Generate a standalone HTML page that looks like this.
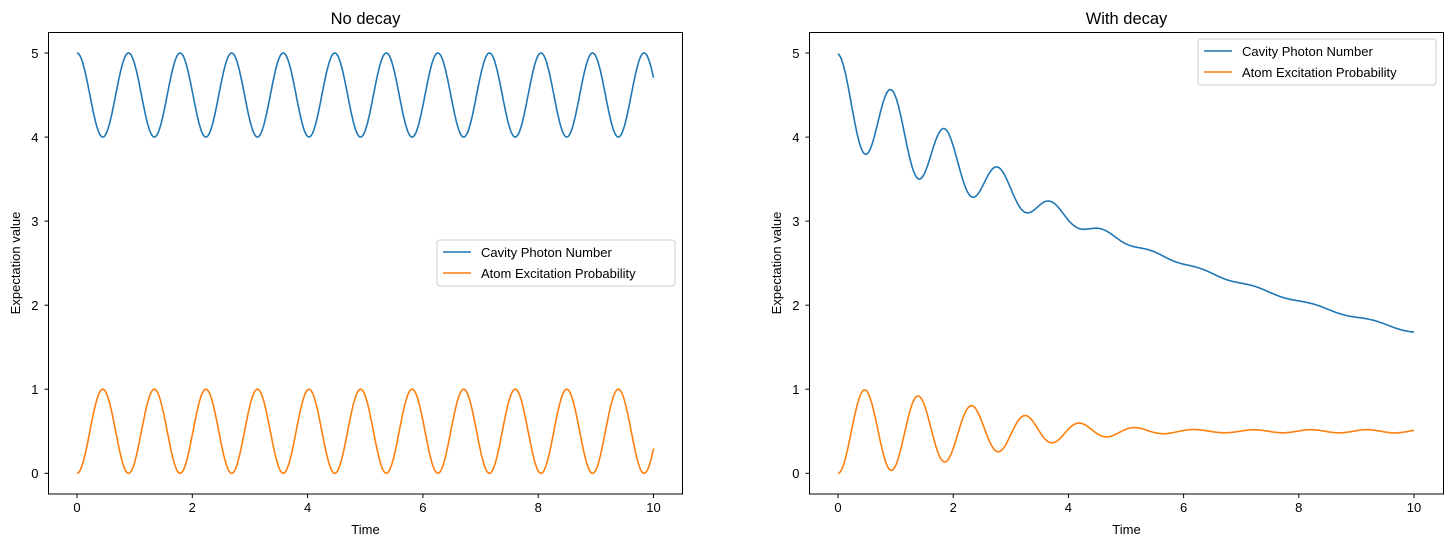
<!DOCTYPE html>
<html><head><meta charset="utf-8"><style>body{margin:0;background:#fff}svg{display:block;font-family:"Liberation Sans","DejaVu Sans",sans-serif}</style></head>
<body>
<svg id="s" width="1453" height="547" xmlns="http://www.w3.org/2000/svg" font-size="13">
<g id="curves"></g>
<!-- left panel -->
<text x="365.5" y="24" font-size="16.5" text-anchor="middle">No decay</text>
<rect x="48.5" y="32.5" width="634" height="461.5" fill="none" stroke="#000"/>
<g stroke="#000">
<line x1="77" x2="77" y1="494" y2="498"/><line x1="192.3" x2="192.3" y1="494" y2="498"/><line x1="307.6" x2="307.6" y1="494" y2="498"/><line x1="422.9" x2="422.9" y1="494" y2="498"/><line x1="538.2" x2="538.2" y1="494" y2="498"/><line x1="653.5" x2="653.5" y1="494" y2="498"/>
<line x1="44.5" x2="48.5" y1="473.3" y2="473.3"/><line x1="44.5" x2="48.5" y1="389.2" y2="389.2"/><line x1="44.5" x2="48.5" y1="305.2" y2="305.2"/><line x1="44.5" x2="48.5" y1="221.1" y2="221.1"/><line x1="44.5" x2="48.5" y1="137.1" y2="137.1"/><line x1="44.5" x2="48.5" y1="53" y2="53"/>
</g>
<g text-anchor="middle">
<text x="77" y="512">0</text><text x="192.3" y="512">2</text><text x="307.6" y="512">4</text><text x="422.9" y="512">6</text><text x="538.2" y="512">8</text><text x="653.5" y="512">10</text>
<text x="365.5" y="534">Time</text>
</g>
<g text-anchor="end">
<text x="38.5" y="478">0</text><text x="38.5" y="394">1</text><text x="38.5" y="310">2</text><text x="38.5" y="226">3</text><text x="38.5" y="142">4</text><text x="38.5" y="58">5</text>
</g>
<text transform="translate(20,263) rotate(-90)" text-anchor="middle">Expectation value</text>
<rect x="437" y="240" width="238" height="46" rx="3" fill="#fff" fill-opacity="0.8" stroke="#ccc"/>
<line x1="443" x2="471" y1="252" y2="252" stroke="#1f77b4" stroke-width="1.6"/><text x="481" y="257">Cavity Photon Number</text>
<line x1="443" x2="471" y1="273" y2="273" stroke="#ff7f0e" stroke-width="1.6"/><text x="481" y="278">Atom Excitation Probability</text>
<!-- right panel -->
<text x="1126.5" y="24" font-size="16.5" text-anchor="middle">With decay</text>
<rect x="809.5" y="32.5" width="634" height="461.5" fill="none" stroke="#000"/>
<g stroke="#000">
<line x1="838" x2="838" y1="494" y2="498"/><line x1="953.2" x2="953.2" y1="494" y2="498"/><line x1="1068.4" x2="1068.4" y1="494" y2="498"/><line x1="1183.6" x2="1183.6" y1="494" y2="498"/><line x1="1298.8" x2="1298.8" y1="494" y2="498"/><line x1="1414" x2="1414" y1="494" y2="498"/>
<line x1="805.5" x2="809.5" y1="473.3" y2="473.3"/><line x1="805.5" x2="809.5" y1="389.2" y2="389.2"/><line x1="805.5" x2="809.5" y1="305.2" y2="305.2"/><line x1="805.5" x2="809.5" y1="221.1" y2="221.1"/><line x1="805.5" x2="809.5" y1="137.1" y2="137.1"/><line x1="805.5" x2="809.5" y1="53" y2="53"/>
</g>
<g text-anchor="middle">
<text x="838" y="512">0</text><text x="953.2" y="512">2</text><text x="1068.4" y="512">4</text><text x="1183.6" y="512">6</text><text x="1298.8" y="512">8</text><text x="1414" y="512">10</text>
<text x="1126.5" y="534">Time</text>
</g>
<g text-anchor="end">
<text x="799.5" y="478">0</text><text x="799.5" y="394">1</text><text x="799.5" y="310">2</text><text x="799.5" y="226">3</text><text x="799.5" y="142">4</text><text x="799.5" y="58">5</text>
</g>
<text transform="translate(781,263) rotate(-90)" text-anchor="middle">Expectation value</text>
<rect x="1198" y="39" width="238" height="46" rx="3" fill="#fff" fill-opacity="0.8" stroke="#ccc"/>
<line x1="1204" x2="1232" y1="51" y2="51" stroke="#1f77b4" stroke-width="1.6"/><text x="1242" y="56">Cavity Photon Number</text>
<line x1="1204" x2="1232" y1="72" y2="72" stroke="#ff7f0e" stroke-width="1.6"/><text x="1242" y="77">Atom Excitation Probability</text>
</svg>
<script>
(function(){
var NS="http://www.w3.org/2000/svg";
var g=document.getElementById("curves");
function add(d,c){var p=document.createElementNS(NS,"path");p.setAttribute("d",d);p.setAttribute("fill","none");p.setAttribute("stroke",c);p.setAttribute("stroke-width","1.6");g.appendChild(p);}
function panel(x0,x10,decay){
  var p1="",p2="";
  for(var i=0;i<=1000;i++){
    var t=i/100,a,b;
    if(!decay){var w=7.026;a=4.5+0.5*Math.cos(w*t);b=0.5-0.5*Math.cos(w*t);}
    else{
      var w2=6.76,A=0.5*Math.exp(-Math.pow(t/3.2,2)),m=4.49*Math.exp(-0.098*t);
      var c=A*Math.cos(w2*t)+0.02*Math.cos(6.5*t)*(1-Math.exp(-t/3));
      a=m+c+0.032*Math.sin(6.3*t)*Math.min(1,t/4);
      b=0.5-c;
    }
    var x=(x0+(x10-x0)*t/10).toFixed(1);
    p1+=(i?"L":"M")+x+","+(473.3-84.06*a).toFixed(1);
    p2+=(i?"L":"M")+x+","+(473.3-84.06*b).toFixed(1);
  }
  add(p1,"#1f77b4");add(p2,"#ff7f0e");
}
panel(77,653.5,false);
panel(838,1414,true);
})();
</script>
</body></html>
